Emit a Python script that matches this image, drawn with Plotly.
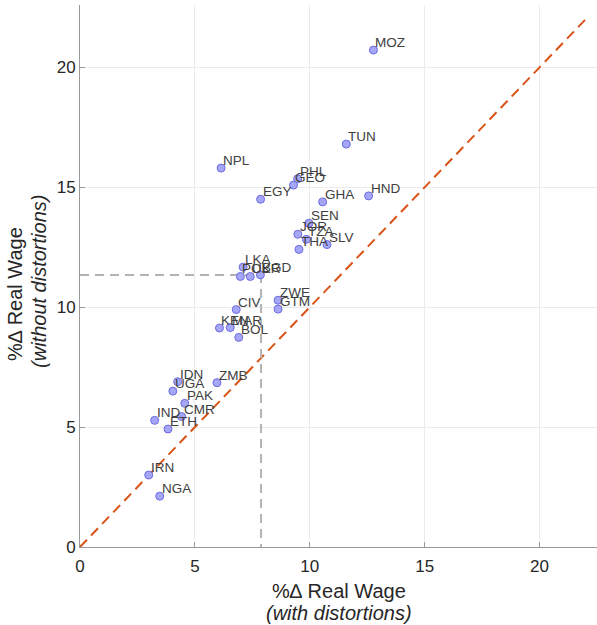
import plotly.graph_objects as go

countries = ["MOZ", "TUN", "NPL", "PHL", "GEO", "EGY", "GHA", "HND", "SEN", "JOR",
             "TZA", "SLV", "THA", "LKA", "POL", "UKR", "BGD", "CIV", "ZWE", "GTM",
             "KEN", "MAR", "BOL", "IDN", "UGA", "ZMB", "PAK", "CMR", "IND", "ETH",
             "IRN", "NGA"]
wage_with = [12.77, 11.59, 6.14, 9.47, 9.29, 7.86, 10.56, 12.56, 9.96, 9.48,
             9.85, 10.75, 9.53, 7.10, 6.98, 7.41, 7.85, 6.80, 8.62, 8.62,
             6.07, 6.54, 6.91, 4.25, 4.04, 5.96, 4.56, 4.42, 3.25, 3.83,
             2.99, 3.47]
wage_without = [20.72, 16.80, 15.80, 15.35, 15.09, 14.50, 14.39, 14.64, 13.50, 13.04,
                12.83, 12.61, 12.41, 11.67, 11.28, 11.28, 11.35, 9.90, 10.29, 9.92,
                9.13, 9.15, 8.74, 6.89, 6.50, 6.85, 5.99, 5.44, 5.28, 4.92,
                3.00, 2.12]
diag = [0, 22]
ref_x = 7.88
ref_y = 11.34
tick_vals = [0, 5, 10, 15, 20]
x_title = ["%\u2206 Real Wage", "<i>(with distortions)</i>"]
y_title = ["%\u2206 Real Wage", "<i>(without distortions)</i>"]

FONT = "Arial, 'Liberation Sans', Helvetica, sans-serif"

fig = go.Figure()

fig.add_trace(go.Scatter(x=diag, y=diag, mode="lines",
                         line=dict(color="#D95319", width=2, dash="10px,6px"),
                         hoverinfo="skip", showlegend=False))
fig.add_trace(go.Scatter(x=[0, ref_x, ref_x], y=[ref_y, ref_y, 0], mode="lines",
                         line=dict(color="#b3b3b3", width=2, dash="9px,6px"),
                         hoverinfo="skip", showlegend=False))
fig.add_trace(go.Scatter(x=wage_with, y=wage_without, mode="markers",
                         marker=dict(size=8, color="#a6a6f6",
                                     line=dict(color="#6c6ce2", width=1)),
                         text=countries, showlegend=False))

for c, xv, yv in zip(countries, wage_with, wage_without):
    fig.add_annotation(x=xv, y=yv, text=c, showarrow=False, xanchor="left",
                       yanchor="middle", xshift=0, yshift=7.5,
                       font=dict(family=FONT, size=13.5, color="#404040"))

title_font = dict(family=FONT, size=20, color="#262626")
fig.add_annotation(xref="paper", yref="paper", x=0.5, y=0, yanchor="middle",
                   xanchor="center", yshift=-44, showarrow=False,
                   text=x_title[0], font=title_font)
fig.add_annotation(xref="paper", yref="paper", x=0.5, y=0, yanchor="middle",
                   xanchor="center", yshift=-66, showarrow=False,
                   text=x_title[1], font=title_font)
fig.add_annotation(xref="paper", yref="paper", x=-0.1257, y=0.467, yanchor="middle",
                   xanchor="center", textangle=-90, showarrow=False,
                   text=y_title[0], font=title_font)
fig.add_annotation(xref="paper", yref="paper", x=-0.0793, y=0.489, yanchor="middle",
                   xanchor="center", textangle=-90, showarrow=False,
                   text=y_title[1], font=title_font)

axis_common = dict(showgrid=True, gridcolor="#ebebeb", gridwidth=1, zeroline=False,
                   showline=True, linecolor="#9a9a9a", linewidth=1,
                   ticks="inside", ticklen=5, tickcolor="#9a9a9a",
                   tickvals=tick_vals, tickfont=dict(family=FONT, size=17, color="#262626"))

fig.update_xaxes(range=[0, 22.5], ticklabelstandoff=4, **axis_common)
fig.update_yaxes(range=[0, 22.6], **axis_common)

fig.update_layout(width=597, height=625, margin=dict(l=80, r=0, t=5, b=78),
                  plot_bgcolor="white", paper_bgcolor="white",
                  font=dict(family=FONT))

fig.write_html("out.html")
